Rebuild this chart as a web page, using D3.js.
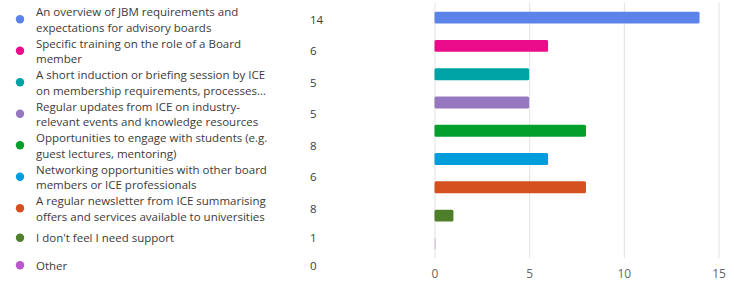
<!DOCTYPE html>
<html>
<head>
<meta charset="utf-8">
<script src="https://cdn.jsdelivr.net/npm/d3@7"></script>
<style>
  body { margin: 0; background: #fff; }
  svg { display: block; font-family: "Open Sans", "Noto Sans", sans-serif; }
</style>
</head>
<body>
<svg class="bar_chart" width="734" height="281"></svg>
<script>
// answer labels, pre-wrapped as they appear
var labels = [
	["An overview of JBM requirements and", "expectations for advisory boards"],
	["Specific training on the role of a Board", "member"],
	["A short induction or briefing session by ICE", "on membership requirements, processes..."],
	["Regular updates from ICE on industry-", "relevant events and knowledge resources"],
	["Opportunities to engage with students (e.g.", "guest lectures, mentoring)"],
	["Networking opportunities with other board", "members or ICE professionals"],
	["A regular newsletter from ICE summarising", "offers and services available to universities"],
	["I don't feel I need support"],
	["Other"]
];
var counts = [14, 6, 5, 5, 8, 6, 8, 1, 0];
var colors = ["#5b83ea", "#eb0c8c", "#00a3a5", "#9678c0", "#039f2d", "#009ddd", "#d4501f", "#4f7f2b", "#bb55cc"];
var xTicks = [0, 5, 10, 15];

var svg = d3.select(".bar_chart");

// ---- legend (left) ----
var lineH = 15.5;
var centers = [];
var yy = 4;
labels.forEach(function(l) {
	var h = l.length > 1 ? 31.5 : 27.5;
	centers.push(yy + h / 2);
	yy += h;
});

var legend = svg.selectAll(".item")
	.data(labels)
	.enter().append("g")
		.attr("class", "item")
		.attr("transform", function(d, i) { return "translate(0," + centers[i] + ")"; });

legend.append("circle")
	.attr("cx", 20)
	.attr("cy", -0.5)
	.attr("r", 4.2)
	.attr("fill", function(d, i) { return colors[i]; });

legend.append("text")
	.attr("x", 36)
	.attr("fill", "#3b3b3b")
	.style("font-size", "11.5px")
	.selectAll("tspan")
	.data(function(d) { return d; })
	.enter().append("tspan")
		.attr("x", 36)
		.attr("y", function(d, j, n) { return (j - (n.length - 1) / 2) * lineH; })
		.attr("dy", "0.35em")
		.text(function(d) { return d; });

legend.append("text")
	.attr("x", 310)
	.attr("dy", "0.35em")
	.attr("fill", "#3b3b3b")
	.style("font-size", "11.5px")
	.text(function(d, i) { return counts[i]; });

// ---- bars (right) ----
var x = d3.scaleLinear().domain([0, 15]).range([434.5, 718.5]);
var y = d3.scaleBand()
	.domain(d3.range(counts.length))
	.range([3.5, 258])
	.paddingInner(0.58)
	.paddingOuter(0.29);

var grid = svg.append("g")
	.attr("class", "axis axis--x")
	.attr("transform", "translate(0,258)")
	.call(d3.axisBottom(x).tickValues(xTicks).tickSize(-255).tickPadding(11));
grid.select(".domain").remove();
grid.selectAll("line").attr("stroke", "#e1e1e1");
grid.selectAll("text")
	.attr("fill", "#666")
	.style("font-size", "12px")
	.style("font-family", "\"Open Sans\", sans-serif");

svg.selectAll(".bar")
	.data(counts)
	.enter().append("rect")
		.attr("class", "bar")
		.attr("x", x(0))
		.attr("y", function(d, i) { return y(i); })
		.attr("height", y.bandwidth())
		.attr("width", function(d) { return Math.max(x(d) - x(0), 1.2); })
		.attr("rx", 1.5)
		.attr("fill", function(d, i) { return colors[i]; })
		.attr("fill-opacity", function(d) { return d === 0 ? 0.35 : 1; });
</script>
</body>
</html>
